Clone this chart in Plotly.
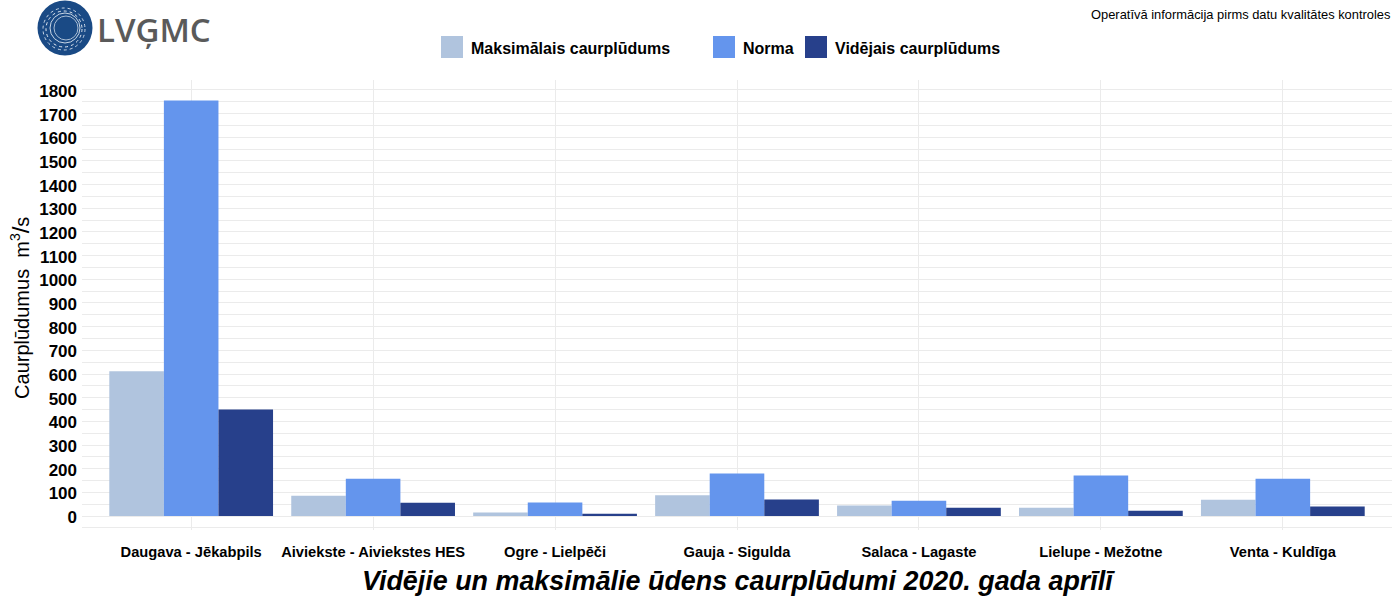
import plotly.graph_objects as go

categories = ["Daugava - Jēkabpils", "Aiviekste - Aiviekstes HES", "Ogre - Lielpēči",
              "Gauja - Sigulda", "Salaca - Lagaste", "Lielupe - Mežotne", "Venta - Kuldīga"]
maksimalais = [612, 86, 15, 88, 44, 35, 69]
norma = [1755, 158, 57, 180, 65, 171, 158]
videjais = [450, 56, 10, 70, 35, 22, 40]
series_names = ["Maksimālais caurplūdums", "Norma", "Vidējais caurplūdums"]
colors = ["#B0C4DE", "#6495ED", "#27408B"]
title_text = "Vidējie un maksimālie ūdens caurplūdumi 2020. gada aprīlī"
note_text = "Operatīvā informācija pirms datu kvalitātes kontroles"
logo_text = "LVĢMC"
y_title = "Caurplūdumus  m<sup>3</sup><span style='font-size:24px'>/</span>s&#160;"

W, H = 1400, 600
FONT = "Liberation Sans"
ML, MR, MT, MB = 82, 8, 80, 70

def px(x):
    return (x - ML) / (W - ML - MR)

def py(y):
    return 1 - (y - MT) / (H - MT - MB)

fig = go.Figure()
for name, vals, col in zip(series_names, [maksimalais, norma, videjais], colors):
    fig.add_trace(go.Bar(x=categories, y=vals, name=name, marker=dict(color=col, line_width=0)))

shapes = []
annotations = []

# Legend
legend_x = [441, 713, 805]
for x0, name, col in zip(legend_x, series_names, colors):
    shapes.append(dict(type="rect", xref="paper", yref="paper", x0=px(x0), x1=px(x0 + 22),
                       y0=py(58), y1=py(36), fillcolor=col, line_width=0, layer="above"))
    annotations.append(dict(xref="paper", yref="paper", x=px(x0 + 27.5), y=py(48.5), text=f"<b>{name}</b>",
                            xanchor="left", yanchor="middle", showarrow=False,
                            font=dict(family=FONT, size=16, color="black")))

# Logo
cx, cy = 65, 28
for r, dx, dy, fill, lc, lw, dash in [(27.5, 0, 0, "#1A4A85", "#1A4A85", 0, "solid"),
                                      (21, -1, 1, "rgba(0,0,0,0)", "#C8D6E6", 1, "dot"),
                                      (18, -1, 1, "rgba(0,0,0,0)", "#E4EBF3", 1, "dot"),
                                      (15, 0, 0, "rgba(0,0,0,0)", "#C8D6E6", 1, "solid"),
                                      (12, 1, 0, "rgba(0,0,0,0)", "#A9BDD4", 1, "solid")]:
    shapes.append(dict(type="circle", xref="paper", yref="paper",
                       x0=px(cx + dx - r), x1=px(cx + dx + r), y0=py(cy + dy + r), y1=py(cy + dy - r),
                       fillcolor=fill, line=dict(color=lc, width=lw, dash=dash), layer="above"))
annotations.append(dict(xref="paper", yref="paper", x=px(95), y=py(29), text=logo_text,
                        xanchor="left", yanchor="middle", showarrow=False,
                        font=dict(family="Open Sans", size=33, color="#5A5A5A", weight=600)))

# Note top right
annotations.append(dict(xref="paper", yref="paper", x=px(1392), y=py(14.5), text=note_text,
                        xanchor="right", yanchor="middle", showarrow=False,
                        font=dict(family=FONT, size=12.9, color="black")))

# Title
annotations.append(dict(xref="paper", yref="paper", x=px(738), y=py(581), text=f"<b><i>{title_text}</i></b>",
                        xanchor="center", yanchor="middle", showarrow=False,
                        font=dict(family=FONT, size=26.9, color="black")))

fig.update_layout(
    width=W, height=H, autosize=False,
    margin=dict(l=ML, r=MR, t=MT, b=MB, pad=0),
    paper_bgcolor="white", plot_bgcolor="white",
    barmode="group", bargap=0.1, bargroupgap=0,
    showlegend=False,
    shapes=shapes, annotations=annotations,
    font=dict(family=FONT, color="black"),
    xaxis=dict(range=[-0.6, 6.6], showgrid=True, gridcolor="#EBEBEB", gridwidth=1, zeroline=False,
               showline=False, ticks="", ticklabelstandoff=11,
               tickfont=dict(family=FONT, size=14.7, color="black", weight="bold"),
               tickangle=0, fixedrange=True),
    yaxis=dict(range=[-59, 1842], dtick=100, tick0=0, showgrid=True, gridcolor="#EBEBEB", gridwidth=1,
               minor=dict(dtick=50, tick0=0, showgrid=True, gridcolor="#EBEBEB", gridwidth=1),
               zeroline=False, showline=False, ticks="", ticklabelstandoff=4, ticklabelshift=1,
               tickfont=dict(family=FONT, size=17, color="black", weight="bold"),
               title=dict(text=y_title, font=dict(family=FONT, size=20, color="black"), standoff=4),
               fixedrange=True),
)

fig.write_html("out.html", post_script="document.body.style.margin='0';",
               config={"displayModeBar": False})
